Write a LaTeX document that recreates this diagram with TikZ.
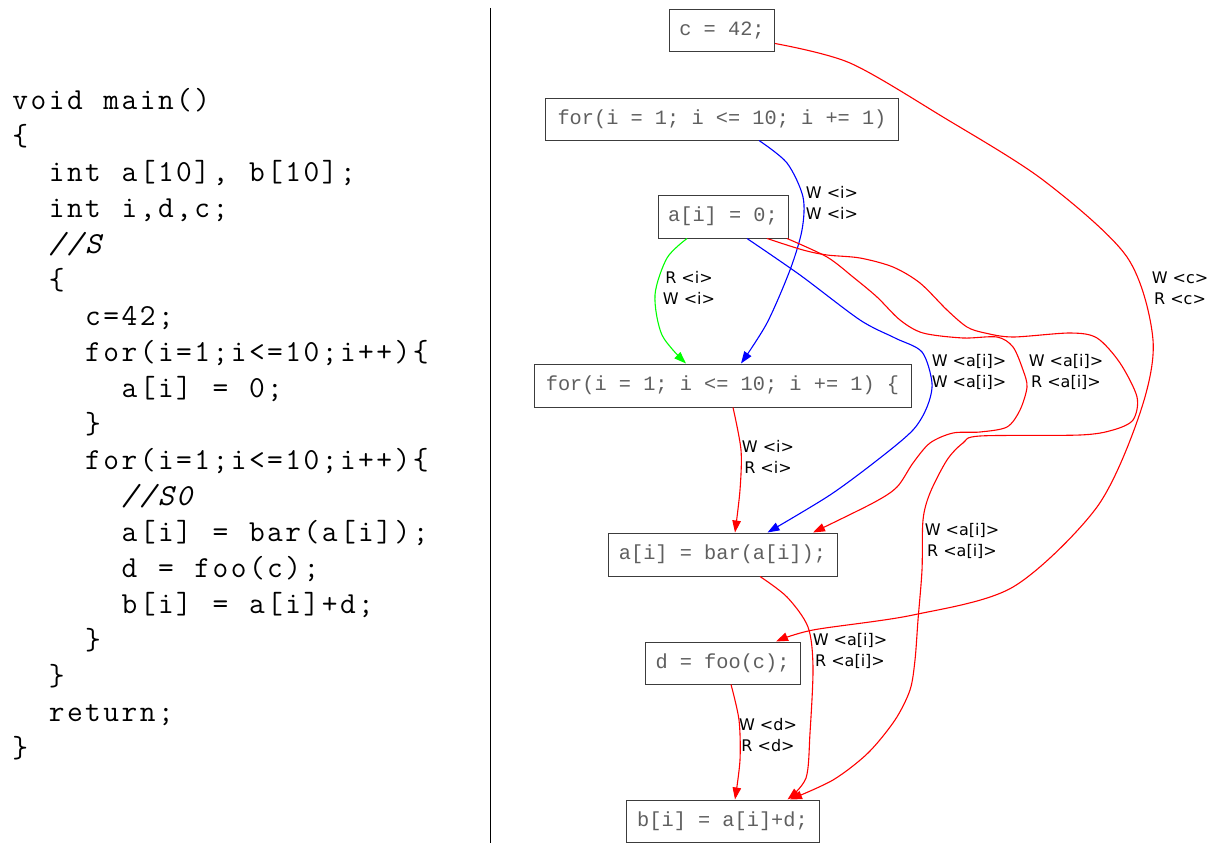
\documentclass[tikz,border=0pt]{standalone}
\usepackage{fontspec}
\newfontfamily\boxfont{Liberation Mono}
\newfontfamily\labfont{DejaVu Sans}
\usetikzlibrary{arrows.meta}
\definecolor{boxtext}{RGB}{95,95,95}
\definecolor{boxline}{RGB}{60,60,60}
\definecolor{edgered}{RGB}{255,0,0}
\definecolor{edgeblue}{RGB}{0,0,255}
\definecolor{edgegreen}{RGB}{0,255,0}
\newcommand\fixcol[1]{\fixcolA#1\relax}
\def\fixcolA#1{\ifx#1\relax\else\makebox[18.2pt]{#1}\expandafter\fixcolA\fi}
\tikzset{
  codeline/.style={anchor=base west, inner sep=0pt, font=\fontsize{30.5}{36}\selectfont\ttfamily},
  stmt/.style={draw=boxline, line width=1pt, text=boxtext, font=\fontsize{20.3}{24}\selectfont\boxfont, minimum height=42pt, inner sep=0pt},
  deplab/.style={font=\fontsize{16}{21}\selectfont\labfont, align=center, inner sep=0pt},
  dep/.style={line width=1.1pt, -{Triangle[length=12pt,width=8.5pt]}},
}
\begin{document}
\begin{tikzpicture}[x=1pt,y=-1pt]
\useasboundingbox (0,0) rectangle (1224,843);
% ---- code listing ----
\node[codeline] (c1)  at (11,109.5) {\fixcol{void~main()}};
\node[codeline] (c2)  at (11,145.5) {\fixcol{\{}};
\node[codeline] (c3)  at (47.4,181.5) {\fixcol{int~a[10],~b[10];}};
\node[codeline] (c4)  at (47.4,217.5) {\fixcol{int~i,d,c;}};
\node[codeline] (c5)  at (47.4,253.5) {\itshape\fixcol{//S}};
\node[codeline] (c6)  at (47.4,289.5) {\fixcol{\{}};
\node[codeline] (c7)  at (83.8,325.5) {\fixcol{c=42;}};
\node[codeline] (c8)  at (83.8,361.5) {\fixcol{for(i=1;i<=10;i++)\{}};
\node[codeline] (c9)  at (120.2,397.5) {\fixcol{a[i]~=~0;}};
\node[codeline] (c10) at (83.8,433.5) {\fixcol{\}}};
\node[codeline] (c11) at (83.8,469.5) {\fixcol{for(i=1;i<=10;i++)\{}};
\node[codeline] (c12) at (120.2,505.5) {\itshape\fixcol{//S0}};
\node[codeline] (c13) at (120.2,541.5) {\fixcol{a[i]~=~bar(a[i]);}};
\node[codeline] (c14) at (120.2,577.5) {\fixcol{d~=~foo(c);}};
\node[codeline] (c15) at (120.2,613.5) {\fixcol{b[i]~=~a[i]+d;}};
\node[codeline] (c16) at (83.8,649.5) {\fixcol{\}}};
\node[codeline] (c17) at (47.4,685.5) {\fixcol{\}}};
\node[codeline] (c18) at (47.4,721.5) {\fixcol{return;}};
\node[codeline] (c19) at (11,757.5) {\fixcol{\}}};
% ---- divider ----
\draw[line width=1pt] (490,8) -- (490,843);
% ---- statement nodes ----
\node[stmt, minimum width=105pt] (n1) at (722,31) {c = 42;};
\node[stmt, minimum width=353pt] (n2) at (722,119) {for(i = 1; i <= 10; i += 1)};
\node[stmt, minimum width=130pt, minimum height=43pt] (n3) at (723,216.5) {a[i] = 0;};
\node[stmt, minimum width=377pt, minimum height=43pt] (n4) at (722.5,385.5) {for(i = 1; i <= 10; i += 1) \{};
\node[stmt, minimum width=229pt, minimum height=43pt] (n5) at (722.5,554.5) {a[i] = bar(a[i]);};
\node[stmt, minimum width=155pt] (n6) at (722.5,663) {d = foo(c);};
\node[stmt, minimum width=193pt] (n7) at (722.5,821) {b[i] = a[i]+d;};
% ---- edges ----
\draw[dep, edgegreen] plot[smooth] coordinates {([xshift=-36pt]n3.south) (667,258) (655,295) (662,335) ([xshift=-36.5pt]n4.north)};
\draw[dep, edgeblue] plot[smooth] coordinates {([xshift=37pt]n2.south) (787,163) (803,197) (802,230) (790,270) (767,323) ([xshift=18.5pt]n4.north)};
\draw[dep, edgeblue] plot[smooth] coordinates {([xshift=24pt]n3.south) (800,275) (860,320) (895,338) (922,352) (932,383) (927,407) (913,430) (880,458) (830,495) ([xshift=45pt]n5.north)};
\draw[dep, edgered] plot[smooth] coordinates {([xshift=64pt]n3.south) (827,257) (853,277) (877,297) (900,320) (923,333) (963,338) (997,337) (1013,347) (1023,370) (1027,387) (1020,410) (1007,427) (980,432) (953,433) (930,443) (913,463) (897,487) (873,503) ([xshift=90.5pt]n5.north)};
\draw[dep, edgered] plot[smooth] coordinates {([xshift=44pt]n3.south) (803,250) (827,255) (860,258) (893,267) (920,283) (947,310) (967,327) (985,333) (1013,337) (1070,333) (1097,338) (1120,363) (1137,397) (1133,420) (1113,430) (1080,435) (980,436) (963,443) (947,460) (930,493) (923,520) (922,570) (918,620) (915,660) (910,690) (895,720) (868,753) (833,780) ([xshift=67.5pt]n7.north)};
\draw[dep, edgered] plot[smooth] coordinates {([yshift=9pt]n1.south east) (850,63) (943,117) (1043,180) (1127,257) (1153,340) (1140,413) (1097,507) (1013,587) (913,615) (813,630) ([xshift=53.5pt]n6.north)};
\draw[dep, edgered] plot[smooth] coordinates {([xshift=10.5pt]n4.south) (741,450) (740,490) ([xshift=12.5pt]n5.north)};
\draw[dep, edgered] plot[smooth] coordinates {([xshift=37.5pt]n5.south) (787,597) (808,627) (813,667) (810,733) (806,778) ([xshift=65pt]n7.north)};
\draw[dep, edgered] plot[smooth] coordinates {([xshift=8.5pt]n6.south) (739,720) (740,760) ([xshift=12.5pt]n7.north)};
% ---- labels ----
\node[deplab] (l1) at (832,203) {W <i>\\W <i>};
\node[deplab] (l2) at (689,288) {R <i>\\W <i>};
\node[deplab] (l3) at (1180,288) {W <c>\\R <c>};
\node[deplab] (l4) at (969,372) {W <a[i]>\\W <a[i]>};
\node[deplab] (l5) at (1066,372) {W <a[i]>\\R <a[i]>};
\node[deplab] (l6) at (768,457) {W <i>\\R <i>};
\node[deplab] (l7) at (962,541) {W <a[i]>\\R <a[i]>};
\node[deplab] (l8) at (850,651) {W <a[i]>\\R <a[i]>};
\node[deplab] (l9) at (768,735) {W <d>\\R <d>};
\end{tikzpicture}
\end{document}
